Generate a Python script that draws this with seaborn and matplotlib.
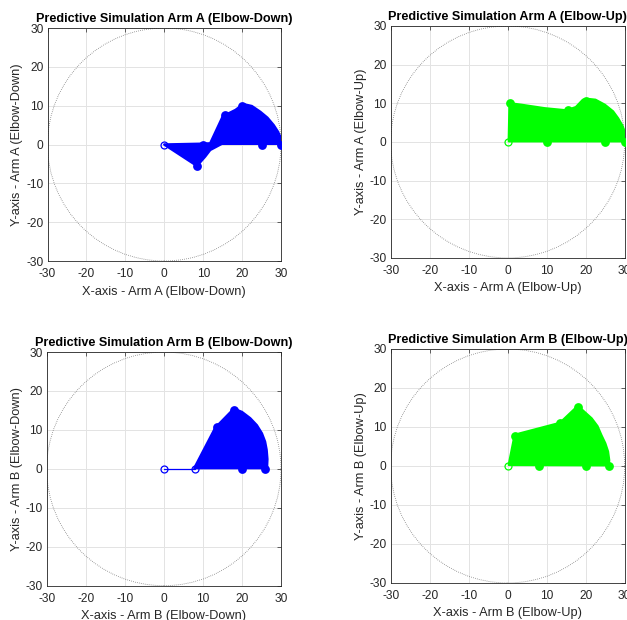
import matplotlib
matplotlib.use("Agg")
import matplotlib.pyplot as plt
import matplotlib.patches as mpatches
import seaborn as sns

# --- data (outline of swept area + joint markers) ---
a_down_x = [0, 9.6, 11.8, 15.2, 16.1, 18.3, 20.3, 22.5, 24.7, 26.5, 28.1, 29.2, 29.8, 30.2, 30.1,
            14.8, 11.8, 10.5, 8.4]
a_down_y = [0, 0.2, 0.3, 7.6, 7.8, 8.9, 10.4, 9.9, 8.4, 6.9, 5.0, 3.3, 2.0, 0.5, 0.2,
            0.2, -1.4, -3.1, -5.5]
a_down_mx = [8.4, 10.0, 15.5, 20.0, 25.0, 30.0]
a_down_my = [-5.5, 0.0, 7.5, 10.0, -0.2, 0.0]

a_up_x = [0.3, 0.5, 3.5, 9.5, 14.6, 15.5, 17.5, 19.3, 20.6, 22.5, 24.9, 27.0, 28.3, 29.4, 30.0, 30.2, 30.1, 0.3]
a_up_y = [0.4, 10.0, 9.6, 8.7, 8.2, 8.3, 9.0, 10.9, 11.1, 10.9, 9.6, 7.9, 6.1, 4.2, 2.5, 0.5, 0.2, 0.2]
a_up_mx = [0.5, 10.0, 15.5, 20.2, 25.0, 30.0]
a_up_my = [10.0, 0.0, 8.2, 10.5, 0.0, 0.0]

b_down_x = [7.8, 13.3, 13.8, 17.8, 18.5, 20.0, 22.1, 23.8, 25.1, 25.9, 26.3, 26.5, 26.4]
b_down_y = [0.2, 10.8, 11.2, 15.3, 15.2, 14.6, 13.0, 11.2, 9.1, 7.0, 4.9, 2.5, 0.2]
b_down_mx = [13.5, 18.0, 20.0, 26.0]
b_down_my = [10.8, 15.0, 0.0, 0.0]

b_up_x = [0.3, 1.8, 3.0, 12.9, 13.8, 17.6, 18.4, 19.5, 21.5, 23.0, 24.0, 25.0, 25.7, 26.0, 25.9]
b_up_y = [0.3, 7.9, 8.3, 10.9, 11.4, 15.0, 15.0, 14.0, 12.2, 10.2, 7.9, 5.8, 3.7, 1.5, 0.2]
b_up_mx = [1.8, 13.5, 18.0, 8.0, 20.0, 26.0]
b_up_my = [7.8, 11.0, 15.0, 0.0, 0.0, 0.0]

# hollow joint circles (base, and elbow where visible)
a_down_base = ([0], [0])
a_up_base = ([0], [0])
b_down_base = ([0, 8.0], [0, 0])
b_up_base = ([0], [0])

reach = 30
ticks = [-30, -20, -10, 0, 10, 20, 30]

sns.set_theme(style="whitegrid")
plt.rcParams['font.family'] = ['Liberation Sans', 'DejaVu Sans']
plt.rcParams['axes.unicode_minus'] = False

fig = plt.figure(figsize=(6.27, 6.2), dpi=100)
fig.patch.set_facecolor('white')

panels = [
    ([0.0758, 0.579, 0.3724, 0.3758], a_down_x, a_down_y, a_down_mx, a_down_my, a_down_base,
     'blue', 'Arm A (Elbow-Down)', True),
    ([0.6231, 0.5839, 0.3732, 0.3742], a_up_x, a_up_y, a_up_mx, a_up_my, a_up_base,
     '#00ff00', 'Arm A (Elbow-Up)', False),
    ([0.0745, 0.0553, 0.3737, 0.3769], b_down_x, b_down_y, b_down_mx, b_down_my, b_down_base,
     'blue', 'Arm B (Elbow-Down)', True),
    ([0.6231, 0.0597, 0.3732, 0.3774], b_up_x, b_up_y, b_up_mx, b_up_my, b_up_base,
     '#00ff00', 'Arm B (Elbow-Up)', False),
]

for rect, px, py, mx, my, base, col, name, link in panels:
    ax = fig.add_axes(rect)
    ax.set_facecolor('white')
    ax.set_xlim(-30, 30)
    ax.set_ylim(-30, 30)
    ax.set_xticks(ticks)
    ax.set_yticks(ticks)
    ax.grid(True, color='#e3e3e3', linewidth=0.7)
    ax.set_axisbelow(True)

    # workspace boundary
    ax.add_patch(mpatches.Circle((0, 0), reach, fill=False, edgecolor='#666666',
                                 linestyle=(0, (0.8, 1.6)), linewidth=0.6))

    ax.fill(px, py, color=col, edgecolor=col, linewidth=1.8, joinstyle='round', zorder=3)
    sns.scatterplot(x=mx, y=my, ax=ax, color=col, s=40, edgecolor=col, linewidth=0, zorder=4)
    if link:
        ax.plot(base[0], base[1], color=col, linewidth=0.9, zorder=3)
    ax.plot(base[0], base[1], 'o', markersize=5, markerfacecolor='none',
            markeredgecolor=col, markeredgewidth=0.9, linestyle='none', zorder=5)

    for s in ax.spines.values():
        s.set_color('#262626')
        s.set_linewidth(0.6)
        s.set_visible(True)
    ax.tick_params(direction='in', length=3, width=0.5, colors='#262626',
                   labelsize=8.6, top=True, right=True, pad=3)
    ax.tick_params(axis='x', pad=5)

    ax.set_title('Predictive Simulation ' + name, fontsize=9.1, fontweight='bold',
                 color='black', pad=4)
    ax.set_xlabel('X-axis - ' + name, fontsize=9.2, color='#262626', labelpad=4)
    ax.set_ylabel('Y-axis - ' + name, fontsize=9.2, color='#262626', labelpad=2)

fig.savefig('out.png', dpi=100, facecolor='white')
